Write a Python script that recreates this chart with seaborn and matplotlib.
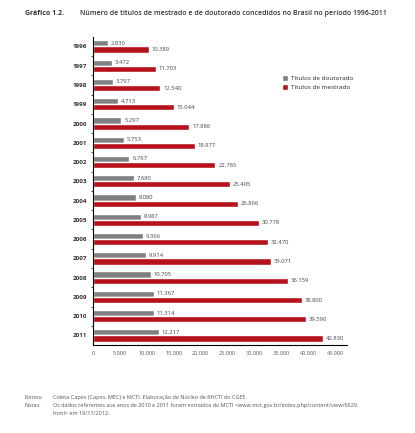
import pandas as pd
import matplotlib.pyplot as plt
import seaborn as sns

# Data
years = ["1996", "1997", "1998", "1999", "2000", "2001", "2002", "2003",
         "2004", "2005", "2006", "2007", "2008", "2009", "2010", "2011"]
doutorado = [2830, 3472, 3797, 4713, 5297, 5753, 6767, 7680,
             8080, 8987, 9366, 9914, 10705, 11367, 11314, 12217]
mestrado = [10389, 11703, 12540, 15044, 17886, 18977, 22765, 25405,
            26866, 30778, 32470, 33071, 36159, 38800, 39590, 42830]
series = ["Títulos de doutorado", "Títulos de mestrado"]
colors = ["#808080", "#b5121b"]

df = pd.DataFrame({
    "ano": years * 2,
    "valor": doutorado + mestrado,
    "tipo": [series[0]] * len(years) + [series[1]] * len(years),
})

sns.set_style("white")
plt.rcParams["font.family"] = ["Open Sans", "DejaVu Sans"]

fig = plt.figure(figsize=(4.15, 4.33), dpi=100)
ax = fig.add_axes([0.224, 0.203, 0.612, 0.712])

sns.barplot(data=df, x="valor", y="ano", hue="tipo", orient="h",
            palette=colors, width=0.64, dodge=True, ax=ax, legend=True,
            saturation=1)

# value labels
for cont in ax.containers:
    labels = [f"{int(v):,}".replace(",", ".") for v in cont.datavalues]
    ax.bar_label(cont, labels=labels, padding=2, fontsize=4.2, color="#444444")

ax.set_xlim(0, 47200)
ax.set_xticks(range(0, 45001, 5000))
ax.set_xticklabels([f"{v:,}".replace(",", ".") for v in range(0, 45001, 5000)],
                   fontsize=4, color="#555555")
ax.set_yticklabels(years, fontsize=4.5, fontweight="bold", color="#333333")
ax.set_xlabel("")
ax.set_ylabel("")
ax.tick_params(axis="y", length=0, pad=4)
ax.tick_params(axis="x", length=0, pad=4)
ax.set_yticks([i + 0.5 for i in range(len(years) - 1)], minor=True)
ax.tick_params(axis="y", which="minor", length=1.5, width=0.5, color="black",
               direction="out", left=True)

for s in ["top", "right"]:
    ax.spines[s].set_visible(False)
for s in ["left", "bottom"]:
    ax.spines[s].set_color("black")
    ax.spines[s].set_linewidth(0.8)

leg = ax.legend(loc="upper left", bbox_to_anchor=(0.72, 0.895), frameon=False,
                fontsize=4.6, handlelength=1.0, handleheight=1.0,
                handletextpad=0.5, labelspacing=0.5)

fig.text(0.06, 0.968, "Gráfico 1.2.", fontsize=5, fontweight="bold",
         color="#333333", va="center")
fig.text(0.193, 0.968,
         "Número de títulos de mestrado e de doutorado concedidos no Brasil no período 1996-2011",
         fontsize=5, fontweight="semibold", color="#333333", va="center")

fig.text(0.06, 0.083, "Fontes:", fontsize=4, color="#555555", va="center")
fig.text(0.128, 0.083,
         "Coleta Capes (Capes, MEC) e MCTI. Elaboração do Núcleo de RHCTI do CGEE.",
         fontsize=4, color="#555555", va="center")
fig.text(0.06, 0.064, "Notas:", fontsize=4, color="#555555", va="center")
fig.text(0.128, 0.064,
         "Os dados referentes aos anos de 2010 e 2011 foram extraídos do MCTI <www.mct.gov.br/index.php/content/view/6629.",
         fontsize=4, color="#555555", va="center")
fig.text(0.128, 0.045, "html> em 19/11/2012.",
         fontsize=4, color="#555555", va="center")

fig.savefig("out.png", dpi=100)
